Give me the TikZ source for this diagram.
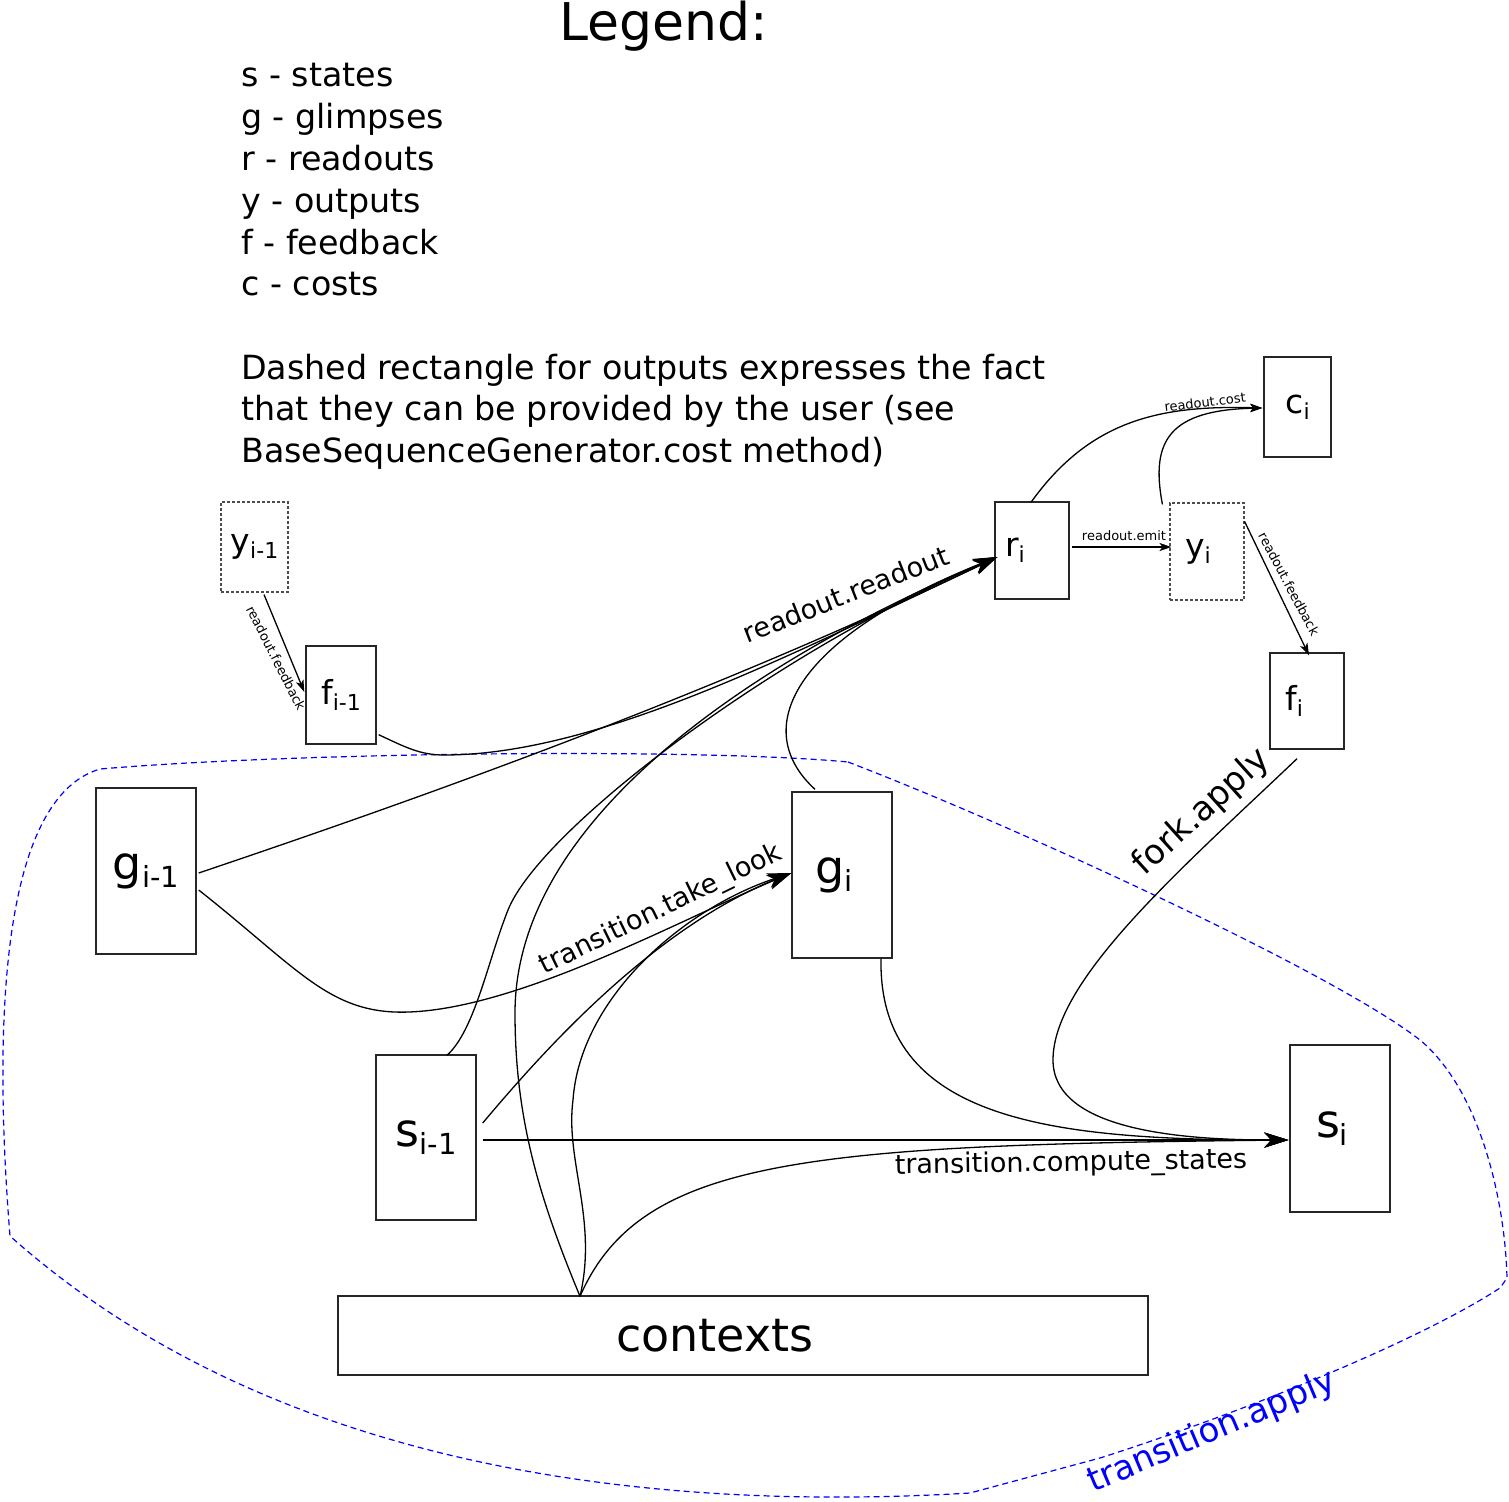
\documentclass[tikz,border=0pt]{standalone}
\usepackage{fontspec}
\setmainfont{DejaVu Sans}
\usetikzlibrary{arrows.meta,calc}
\newcommand\LabBig[2]{{\fontsize{46}{46}\selectfont #1\raisebox{-8pt}{\fontsize{29}{29}\selectfont #2}}}
\newcommand\LabSm[2]{{\fontsize{33}{33}\selectfont #1\raisebox{-6pt}{\fontsize{22}{22}\selectfont #2}}}
\newcommand\Nudge[2]{\kern#1\kern#1#2}
\begin{document}
\begin{tikzpicture}[x=1pt,y=-1pt,
  box/.style={draw=black!85, line width=1.4pt, rectangle, inner sep=0pt},
  dbox/.style={draw=black!70, line width=1.1pt, dash pattern=on 3pt off 2pt, rectangle, inner sep=0pt},
  conn/.style={line width=1.3pt},
  bigarr/.style={-{Stealth[length=24pt,width=15pt,inset=7pt]}},
  smarr/.style={-{Stealth[length=12pt,width=8pt,inset=3pt]}},
  lg/.style={font=\fontsize{33.3}{40}\selectfont, anchor=base west, inner sep=0pt},
  elab/.style={font=\fontsize{27}{27}\selectfont, inner sep=0pt},
  flab/.style={font=\fontsize{34}{34}\selectfont, inner sep=0pt},
  slab/.style={font=\fontsize{13}{13}\selectfont, inner sep=0pt},
  region/.style={draw=blue, line width=1.2pt, dash pattern=on 6pt off 4pt},
]
\useasboundingbox (0,0) rectangle (1509,1501);

% transition.apply region
\draw[region] (848,762) .. controls (1000,820) and (1330,970) .. (1420,1040)
  .. controls (1480,1090) and (1505,1200) .. (1507,1278) -- (1500,1288)
  .. controls (1420,1340) and (1250,1410) .. (1100,1458) -- (970,1493)
  .. controls (600,1515) and (250,1450) .. (10,1236)
  .. controls (-5,1050) and (-5,800) .. (100,769)
  .. controls (300,752) and (700,748) .. cycle;

% legend
\node[font=\fontsize{52}{52}\selectfont, anchor=base, inner sep=0pt] (legtitle) at (664,41) {Legend:};
\node[lg] (leg1) at (241,87) {s - states};
\node[lg] (leg2) at (241,128.7) {g - glimpses};
\node[lg] (leg3) at (241,170.4) {r - readouts};
\node[lg] (leg4) at (241,212) {y - outputs};
\node[lg] (leg5) at (241,254) {f - feedback};
\node[lg] (leg6) at (241,295.6) {c - costs};
\node[lg] (leg7) at (241,379) {Dashed rectangle for outputs expresses the fact};
\node[lg] (leg8) at (241,420.7) {that they can be provided by the user (see};
\node[lg] (leg9) at (241,462.4) {BaseSequenceGenerator.cost method)};

% boxes
\node[dbox, minimum width=67pt, minimum height=90pt] (ym1) at (254.5,547) {\LabSm{y}{i-1}};
\node[box, minimum width=70pt, minimum height=98pt] (fm1) at (341,695) {\LabSm{f}{i-1}};
\node[box, minimum width=100pt, minimum height=166pt] (gm1) at (146,871) {\LabBig{g}{i-1}};
\node[box, minimum width=74pt, minimum height=97pt] (ri) at (1032,550.5) {\Nudge{-17pt}{\LabSm{r}{i}}};
\node[dbox, minimum width=74pt, minimum height=97pt] (yi) at (1207,551.5) {\Nudge{-9pt}{\LabSm{y}{i}}};
\node[box, minimum width=67pt, minimum height=100pt] (ci) at (1297.5,407) {\LabSm{c}{i}};
\node[box, minimum width=74pt, minimum height=96pt] (fi) at (1307,701) {\Nudge{-13pt}{\LabSm{f}{i}}};
\node[box, minimum width=100pt, minimum height=166pt] (gi) at (842,875) {\Nudge{-8pt}{\LabBig{g}{i}}};
\node[box, minimum width=100pt, minimum height=165pt] (sm1) at (426,1137.5) {\LabBig{s}{i-1}};
\node[box, minimum width=100pt, minimum height=167pt] (si) at (1340,1128.5) {\Nudge{-8pt}{\LabBig{s}{i}}};
\node[box, minimum width=810pt, minimum height=79pt, font=\fontsize{46}{46}\selectfont] (ctx) at (743,1335.5) {\Nudge{-28pt}{contexts}};

% small connectors
\draw[conn, smarr] ($(ym1.south)+(9.5,2)$) -- ($(fm1.west)+(-1,-3)$);
\draw[conn, smarr] ($(ri.east)+(2,-3.5)$) -- ($(yi.west)+(2,-4.5)$);
\draw[conn, smarr] ($(yi.north east)+(0,19)$) -- ($(fi.north)+(2,3)$);
\draw[conn, smarr] ($(ri.north)+(-1,1)$) .. controls (1090,420) and (1160,405) .. ($(ci.west)+(-1,1)$);
\draw[conn, smarr] ($(yi.north west)+(-7,2)$) .. controls (1150,440) and (1170,410) .. ($(ci.west)+(-1,1)$);

% readout.readout
\draw[conn, bigarr] ($(fm1.south east)+(2,-10)$) .. controls (405,747) and (420,755) .. (444,755)
  .. controls (600,755) and (800,650) .. ($(ri.west)+(3,6.5)$);
\draw[conn, bigarr] ($(gm1.east)+(2,2)$) .. controls (400,805) and (700,700) .. ($(ri.west)+(3,6.5)$);
\draw[conn, bigarr] ($(sm1.north)+(21,1)$) .. controls (475,1030) and (488,960) .. (508,910)
  .. controls (540,830) and (770,655) .. ($(ri.west)+(3,6.5)$);
\draw[conn, bigarr] ($(ctx.north)+(-163,1)$) .. controls (540,1200) and (515,1120) .. (515,1013)
  .. controls (515,800) and (800,640) .. ($(ri.west)+(3,6.5)$);
\draw[conn, bigarr] ($(gi.north)+(-27,-2)$) .. controls (750,730) and (790,640) .. ($(ri.west)+(3,6.5)$);

% transition.take_look
\draw[conn, bigarr] ($(gm1.east)+(2,19)$) .. controls (300,970) and (330,1015) .. (409,1012)
  .. controls (520,1008) and (680,920) .. ($(gi.west)+(0,-2)$);
\draw[conn, bigarr] ($(sm1.east)+(6,-14.5)$) .. controls (540,1055) and (650,930) .. ($(gi.west)+(0,-2)$);
\draw[conn, bigarr] ($(ctx.north)+(-163,1)$) .. controls (598,1220) and (565,1160) .. (573,1100)
  .. controls (580,1000) and (680,910) .. ($(gi.west)+(0,-2)$);

% transition.compute_states
\draw[conn, bigarr] ($(sm1.east)+(6,2.5)$) -- ($(si.west)+(-1,11.5)$);
\draw[conn, bigarr] ($(gi.south)+(39,0)$) .. controls (878,1120) and (1050,1140) .. ($(si.west)+(-1,11.5)$);
\draw[conn, bigarr] ($(ctx.north)+(-163,1)$) .. controls (640,1160) and (800,1145) .. ($(si.west)+(-1,11.5)$);
\draw[conn, bigarr] ($(fi.south)+(-10,9)$) .. controls (1180,870) and (1053,980) .. (1053,1060)
  .. controls (1053,1130) and (1180,1140) .. ($(si.west)+(-1,11.5)$);

% labels
\node[elab, rotate=21.5] (lrr) at (846,594) {readout.readout};
\node[elab, rotate=26] (ltl) at (661,910) {transition.take\_look};
\node[elab, rotate=1] (lcs) at (1071,1164) {transition.compute\_states};
\node[flab, rotate=42] (lfa) at (1202,812) {fork.apply};
\node[flab, rotate=23, text=blue] (lta) at (1212,1432) {transition.apply};
\node[slab, rotate=7] (lrc) at (1205,402) {readout.cost};
\node[slab] (lre) at (1124,536) {readout.emit};
\node[slab, rotate=-62] (lrf) at (1289,584) {readout.feedback};
\node[slab, rotate=-63] (lrf2) at (276,658) {readout.feedback};
\end{tikzpicture}
\end{document}
